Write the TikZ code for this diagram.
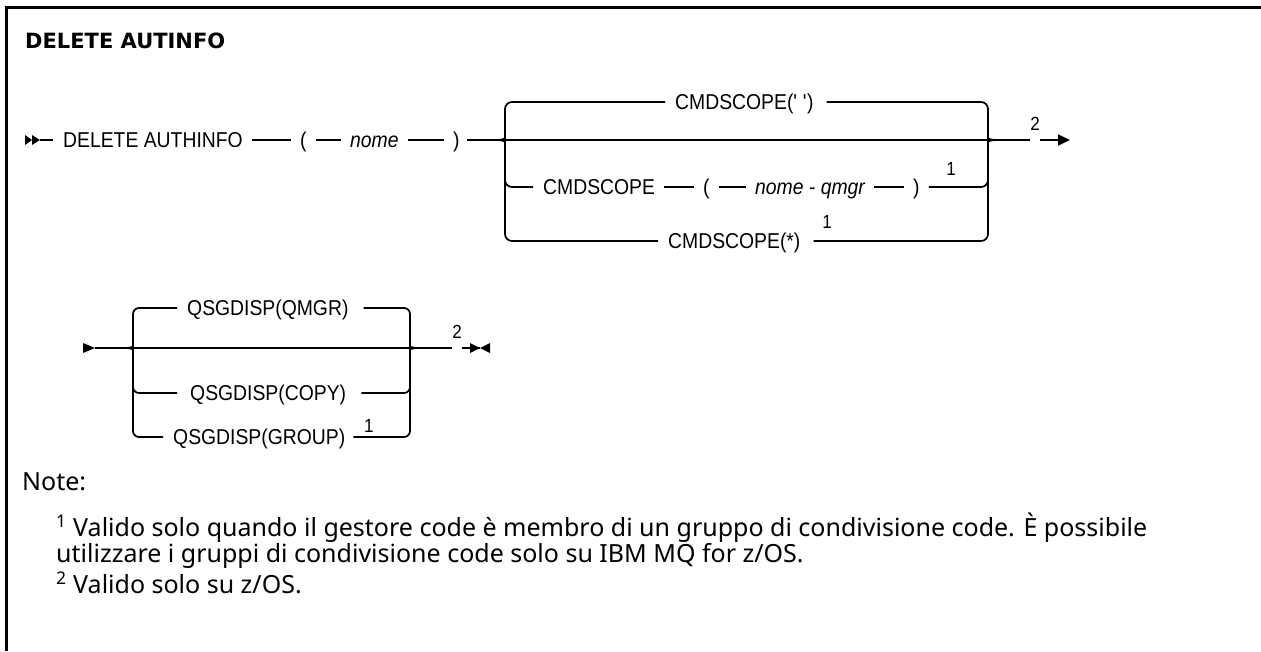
\documentclass[tikz,border=0pt]{standalone}
\usepackage{fontspec}
\setmainfont{Liberation Sans}
\newfontfamily\railfont[FakeStretch=0.9]{Liberation Sans}
\newfontfamily\titlefont{DejaVu Sans}
\newfontfamily\notefont{Noto Sans}
\usepackage{tikz}
\usetikzlibrary{
	calc,
	arrows.meta
	}

\begin{document}
\begin{tikzpicture}[x=1pt,y=-1pt,
	rail/.style={line width=1.7pt},
	kw/.style={anchor=west,inner sep=0pt,text height=15.4pt,text depth=0pt,font=\railfont\fontsize{21.5}{26}\selectfont},
	var/.style={kw,font=\railfont\fontsize{21.5}{26}\selectfont\itshape},
	fnote/.style={inner sep=0pt,font=\railfont\fontsize{19}{22}\selectfont},
	link/.style={rail,shorten <=9pt,shorten >=9pt},
	tip/.style={fill=black},
	notetext/.style={anchor=west,inner sep=0pt,font=\notefont\fontsize{25}{30}\selectfont}]
	\useasboundingbox (0,0) rectangle (1261,651);
	\draw[line width=3pt] (6,651) -- (6,7) -- (1261,7);
	\node[anchor=west,inner sep=0pt,font=\titlefont\bfseries\fontsize{21}{26}\selectfont] (title) at (25,41) {DELETE AUTINFO};

	% first line
	\coordinate (s1) at (40,140);
	\coordinate (bl1) at (497,140);
	\coordinate (br1) at (996,140);
	\coordinate (e1) at (1070,140);
	\node[kw] (del) at (63,140) {DELETE AUTHINFO};
	\node[kw] (lp1) at (300,140) {(};
	\node[var] (nm1) at (350,140) {nome};
	\node[kw] (rp1) at (453,140) {)};
	\node[kw] (cs1) at (675,102) {CMDSCOPE(\textquotesingle\ \textquotesingle)};
	\node[kw] (cs2) at (543,187) {CMDSCOPE};
	\node[kw] (lp2) at (703,187) {(};
	\node[var] (nq) at (755,187) {nome - qmgr};
	\node[kw] (rp2) at (913,187) {)};
	\node[fnote] (f1a) at (951,169) {1};
	\node[kw] (cs3) at (668,241) {CMDSCOPE(*)};
	\node[fnote] (f1b) at (827,222) {1};
	\node[fnote] (f2a) at (1035,124) {2};

	\fill[tip] (25,135) -- (32,140) -- (25,145) -- cycle;
	\fill[tip] (32,135) -- (40,140) -- (32,145) -- cycle;
	\draw[rail,shorten >=10pt] (s1) -- (del);
	\draw[link] (del) -- (lp1);
	\draw[link] (lp1) -- (nm1);
	\draw[link] (nm1) -- (rp1);
	\draw[rail,shorten <=7pt] (rp1) -- (bl1) -- (br1) -- (f2a.west |- br1);
	\draw[rail,-{Triangle[length=12pt,width=11pt]}] (f2a.east |- br1) -- (e1);
	\draw[link] (cs2) -- (lp2);
	\draw[link] (lp2) -- (nq);
	\draw[link] (nq) -- (rp2);

	\draw[rail,rounded corners=7pt,shorten >=10pt] (bl1) .. controls (503,140) and (505,138) .. (505,132) |- (cs1);
	\draw[rail,rounded corners=7pt,shorten >=10pt] (bl1) .. controls (503,140) and (505,142) .. (505,148) |- (cs3);
	\draw[rail,rounded corners=7pt,shorten >=10pt] (505,170) |- (cs2);
	\draw[rail,rounded corners=7pt,shorten <=13pt] (cs1) -| (988,132) .. controls (988,138) and (990,140) .. (br1);
	\draw[rail,rounded corners=7pt,shorten <=13pt] (cs3) -| (988,148) .. controls (988,142) and (990,140) .. (br1);
	\draw[rail,rounded corners=7pt,shorten <=9pt] (rp2) -| (988,170);

	% second line
	\coordinate (s2) at (95,348);
	\coordinate (bl2) at (127,348);
	\coordinate (br2) at (417,348);
	\coordinate (e2) at (480,348);
	\node[kw] (q1) at (187,308) {QSGDISP(QMGR)};
	\node[kw] (q2) at (190,393) {QSGDISP(COPY)};
	\node[kw] (q3) at (173,437) {QSGDISP(GROUP)};
	\node[fnote] (f1c) at (369,426) {1};
	\node[fnote] (f2b) at (457,332) {2};

	\fill[tip] (83,343) -- (95,348) -- (83,353) -- cycle;
	\draw[rail] (s2) -- (bl2) -- (br2) -- (f2b.west |- br2);
	\draw[rail] (f2b.east |- br2) -- (e2);
	\fill[tip] (470,343) -- (480,348) -- (470,353) -- cycle;
	\fill[tip] (490,343) -- (480,348) -- (490,353) -- cycle;

	\draw[rail,rounded corners=6pt,shorten >=10pt] (bl2) .. controls (131,348) and (133,346) .. (133,341) |- (q1);
	\draw[rail,rounded corners=6pt,shorten >=10pt] (bl2) .. controls (131,348) and (133,350) .. (133,355) |- (q3);
	\draw[rail,rounded corners=6pt,shorten >=13pt] (133,375) |- (q2);
	\draw[rail,rounded corners=6pt,shorten <=15pt] (q1) -| (410,341) .. controls (410,346) and (412,348) .. (br2);
	\draw[rail,rounded corners=6pt,shorten <=8pt] (q3) -| (410,355) .. controls (410,350) and (412,348) .. (br2);
	\draw[rail,rounded corners=6pt,shorten <=15pt] (q2) -| (410,375);

	% notes
	\node[notetext] (note) at (22,482) {Note:};
	\node[notetext] (n1) at (56,528) {\textsuperscript{1} Valido solo quando il gestore code è membro di un gruppo di condivisione code. È possibile};
	\node[notetext] (n1b) at (56,556) {utilizzare i gruppi di condivisione code solo su IBM MQ for z/OS.};
	\node[notetext] (n2) at (56,583) {\textsuperscript{2} Valido solo su z/OS.};
\end{tikzpicture}
\end{document}
